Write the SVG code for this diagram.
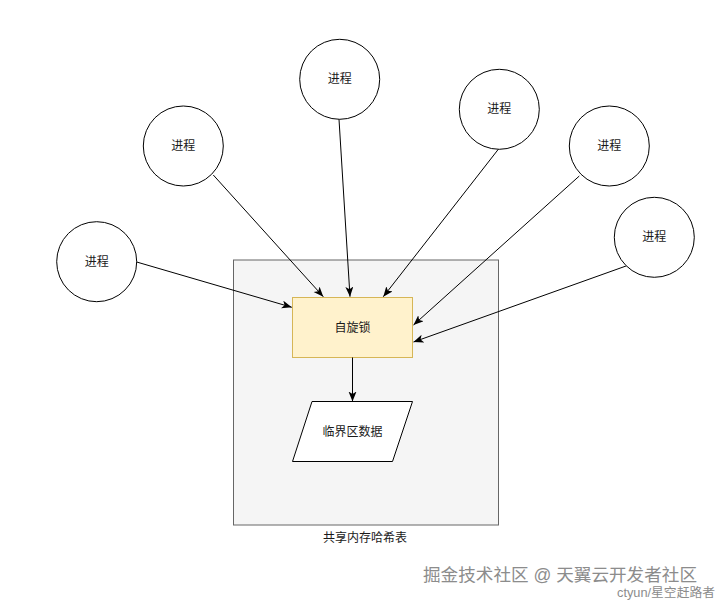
<svg xmlns="http://www.w3.org/2000/svg" width="718" height="604" viewBox="0 0 718 604">
<style>
  .t{font-family:"Liberation Sans","Noto Sans CJK SC",sans-serif;font-size:12px;fill:#1a1a1a;text-anchor:middle;dominant-baseline:central}
  .proc{fill:#ffffff;stroke:#000;stroke-width:1}
  .edge{fill:none;stroke:#000;stroke-width:1;marker-end:url(#arr)}
  .wm{font-family:"Liberation Sans","Noto Sans CJK SC",sans-serif;fill:#8c8c8c;stroke:#ffffff;stroke-width:0.6;paint-order:stroke}
</style>
<defs>
  <marker id="arr" markerUnits="userSpaceOnUse" markerWidth="11" markerHeight="9" refX="10" refY="4" orient="auto">
    <path d="M0,0 L10,4 L0,8 L2.5,4 Z" fill="#000"/>
  </marker>
</defs>
<rect width="718" height="604" fill="#ffffff"/>
<g id="shared-memory">
  <rect x="233.5" y="260" width="265" height="265" fill="#f5f5f5" stroke="#666666"/>
  <text class="t" x="365" y="538">共享内存哈希表</text>
</g>
<g id="spinlock">
  <rect x="292.5" y="297.5" width="120" height="60" fill="#fff2cc" stroke="#d6b656"/>
  <text class="t" x="352.5" y="327.5">自旋锁</text>
</g>
<g id="critical-data">
  <polygon points="312,401.5 412.5,401.5 392.5,461.5 292.5,461.5" fill="#ffffff" stroke="#000"/>
  <text class="t" x="352.5" y="431.5">临界区数据</text>
</g>
<g id="proc1">
  <circle class="proc" cx="96.7" cy="261.7" r="40"/>
  <text class="t" x="96.7" y="261.7">进程</text>
</g>
<g id="proc2">
  <circle class="proc" cx="183.3" cy="146" r="40"/>
  <text class="t" x="183.3" y="146">进程</text>
</g>
<g id="proc3">
  <circle class="proc" cx="339.7" cy="79.3" r="40"/>
  <text class="t" x="339.7" y="79.3">进程</text>
</g>
<g id="proc4">
  <circle class="proc" cx="499.3" cy="109.3" r="40"/>
  <text class="t" x="499.3" y="109.3">进程</text>
</g>
<g id="proc5">
  <circle class="proc" cx="609.3" cy="146" r="40"/>
  <text class="t" x="609.3" y="146">进程</text>
</g>
<g id="proc6">
  <circle class="proc" cx="654.3" cy="237.3" r="40"/>
  <text class="t" x="654.3" y="237.3">进程</text>
</g>
<g id="connectors">
  <path class="edge" d="M136.7,262 L291.8,307.3"/>
  <path class="edge" d="M213.3,175 L323.3,296.7"/>
  <path class="edge" d="M339,119.3 L350,296.7"/>
  <path class="edge" d="M498.3,149.3 L383.3,296.7"/>
  <path class="edge" d="M579.3,176 L413.5,325"/>
  <path class="edge" d="M626,266 L413.5,342"/>
  <path class="edge" d="M352.5,357.5 L352.5,401.5"/>
</g>
<g id="watermark">
  <text class="wm" x="423" y="581" font-size="17.5" textLength="274" lengthAdjust="spacingAndGlyphs">掘金技术社区 @ 天翼云开发者社区</text>
  <text class="wm" x="617" y="597" font-size="12.5" textLength="98" lengthAdjust="spacingAndGlyphs">ctyun/星空赶路者</text>
</g>
</svg>
